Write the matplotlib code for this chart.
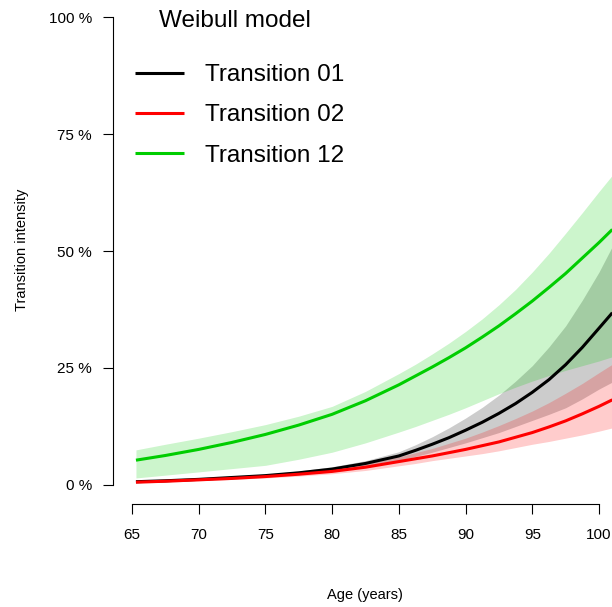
import numpy as np
import matplotlib
matplotlib.use("Agg")
import matplotlib.pyplot as plt

plt.rcParams['font.family'] = ['Liberation Sans', 'DejaVu Sans']

age = [65.3, 67.5, 70, 72.5, 75, 77.5, 80, 82.5, 85, 86.25, 87.5, 88.75,
       90, 91.25, 92.5, 93.75, 95, 96.25, 97.5, 98.75, 100, 101]

# Transition 01 (black)
t01 = [0.007, 0.009, 0.012, 0.016, 0.020, 0.026, 0.034, 0.046, 0.062, 0.074, 0.087, 0.101,
       0.117, 0.134, 0.153, 0.174, 0.198, 0.225, 0.257, 0.294, 0.335, 0.368]
t01_lo = [0.006, 0.008, 0.010, 0.013, 0.017, 0.022, 0.029, 0.039, 0.053, 0.061, 0.070, 0.080,
          0.090, 0.101, 0.112, 0.125, 0.138, 0.151, 0.165, 0.184, 0.205, 0.220]
t01_hi = [0.008, 0.010, 0.013, 0.018, 0.023, 0.030, 0.039, 0.052, 0.071, 0.086, 0.103, 0.122,
          0.143, 0.166, 0.192, 0.222, 0.255, 0.295, 0.340, 0.395, 0.455, 0.510]

# Transition 02 (red)
t02 = [0.006, 0.008, 0.011, 0.014, 0.018, 0.023, 0.029, 0.038, 0.050, 0.056, 0.062, 0.069,
       0.076, 0.084, 0.092, 0.102, 0.112, 0.124, 0.137, 0.152, 0.168, 0.182]
t02_lo = [0.004, 0.006, 0.009, 0.012, 0.015, 0.019, 0.024, 0.031, 0.041, 0.046, 0.052, 0.057,
          0.062, 0.067, 0.073, 0.080, 0.087, 0.093, 0.100, 0.107, 0.115, 0.122]
t02_hi = [0.008, 0.010, 0.013, 0.017, 0.021, 0.027, 0.035, 0.046, 0.060, 0.069, 0.078, 0.089,
          0.100, 0.113, 0.127, 0.142, 0.158, 0.176, 0.196, 0.217, 0.240, 0.258]

# Transition 12 (green)
t12 = [0.053, 0.063, 0.076, 0.091, 0.108, 0.128, 0.151, 0.180, 0.214, 0.233, 0.252, 0.272,
       0.293, 0.316, 0.340, 0.366, 0.393, 0.422, 0.452, 0.485, 0.518, 0.546]
t12_lo = [0.015, 0.021, 0.028, 0.035, 0.042, 0.055, 0.070, 0.090, 0.113, 0.125, 0.138, 0.151,
          0.165, 0.180, 0.195, 0.209, 0.222, 0.234, 0.245, 0.255, 0.265, 0.274]
t12_hi = [0.075, 0.087, 0.100, 0.114, 0.129, 0.147, 0.168, 0.200, 0.238, 0.258, 0.280, 0.303,
          0.328, 0.355, 0.385, 0.418, 0.455, 0.495, 0.538, 0.582, 0.627, 0.662]

labels = ["Transition 01", "Transition 02", "Transition 12"]
colors = ["black", "red", "#00cd00"]

x_ticks = [65, 70, 75, 80, 85, 90, 95, 100]
y_ticks = [0, 0.25, 0.5, 0.75, 1.0]
y_ticklabels = ["0 %", "25 %", "50 %", "75 %", "100 %"]

W, H = 612, 607
fig = plt.figure(figsize=(W / 100, H / 100), dpi=100)
# plot region runs past the right edge of the picture
ax = fig.add_axes([113 / W, 1 - 503.7 / H, (700 - 113) / W, 505.4 / H])

bands = [(t01_lo, t01_hi), (t02_lo, t02_hi), (t12_lo, t12_hi)]
for (lo, hi), c in zip(bands, colors):
    ax.fill_between(age, lo, hi, color=c, alpha=0.2, linewidth=0)

for y, c, lab in zip([t01, t02, t12], colors, labels):
    ax.plot(age, y, color=c, lw=2.2, label=lab, solid_capstyle='butt')

ax.set_xlim(63.58, 107.57)
ax.set_ylim(-0.04, 1.04)

for s in ['top', 'right']:
    ax.spines[s].set_visible(False)
ax.spines['left'].set_bounds(0, 1)
ax.spines['bottom'].set_bounds(65, 100)
ax.spines['left'].set_linewidth(0.8)
ax.spines['bottom'].set_linewidth(0.8)

ax.set_xticks(x_ticks)
ax.set_xticklabels([str(v) for v in x_ticks])
ax.set_yticks(y_ticks)
ax.set_yticklabels(y_ticklabels)
ax.tick_params(axis='both', length=7.2, width=0.8, labelsize=11)
ax.tick_params(axis='x', pad=10)
ax.tick_params(axis='y', pad=8)

fig.text(365 / W, 1 - 595 / H, "Age (years)", ha='center', va='center', fontsize=10.5)
fig.text(22 / W, 1 - 250 / H, "Transition intensity", ha='center', va='center',
         rotation=90, fontsize=10.5)

fig.text(235 / W, 1 - 21 / H, "Weibull model", ha='center', va='center', fontsize=17.5)
ax.legend(loc='upper left', bbox_to_anchor=(135 / W, 1 - 64 / H),
          bbox_transform=fig.transFigure, frameon=False, fontsize=17.5,
          borderpad=0, borderaxespad=0, handlelength=2.0, handletextpad=0.9,
          labelspacing=0.75)

fig.savefig("out.png", dpi=100)
